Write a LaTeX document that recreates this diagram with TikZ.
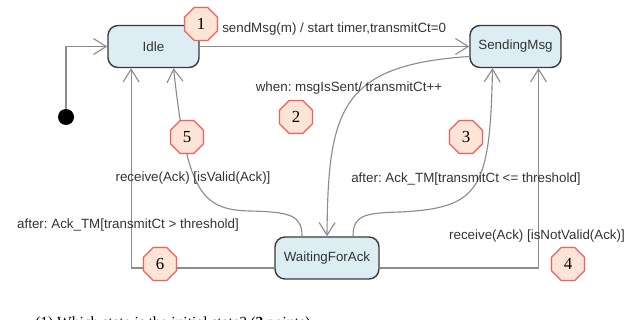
\documentclass[tikz,border=0pt]{standalone}
\usepackage{fontspec}
\setmainfont{Liberation Sans}
\newfontfamily\numfont{Liberation Serif}
\usetikzlibrary{arrows.meta,shapes.geometric,calc}
\frenchspacing

\definecolor{statefill}{HTML}{DCEEF4}
\definecolor{stateedge}{HTML}{3A3A3A}
\definecolor{wire}{HTML}{8C8C8C}
\definecolor{badgefill}{HTML}{FCE4D6}
\definecolor{badgeedge}{HTML}{FF5A5A}

\begin{document}
\begin{tikzpicture}[x=0.025cm, y=-0.025cm,
    state/.style = {draw=stateedge, line width=1pt, fill=statefill, rounded corners=0.25cm, minimum height=1.05cm, font=\fontsize{9.5}{11}\selectfont, text=black!80},
    trans/.style = {draw=wire, line width=0.8pt, -{Straight Barb[length=3.2mm,width=4mm]}},
    badge/.style = {regular polygon, regular polygon sides=8, draw=badgeedge, fill=badgefill, line width=0.8pt, minimum size=0.89cm, inner sep=0pt, font=\numfont\fontsize{12}{12}\selectfont},
    lbl/.style = {font=\fontsize{9.5}{11}\selectfont, text=black!80, inner sep=0pt}]
    % Page size
    \useasboundingbox (0,0) rectangle (643,320);

    % States
    \node[state, minimum width=2.275cm] (idle) at (153.5,46.5) {Idle};
    \node[state, minimum width=2.275cm] (sending) at (515.5,46.5) {SendingMsg};
    \node[state, minimum width=2.6cm] (waiting) at (327,258) {WaitingForAck};
    \node[circle, fill=black, minimum size=0.4cm, inner sep=0pt] (init) at (66,117) {};

    % Initial transition
    \draw[trans] (init) |- (idle);
    % Idle to SendingMsg
    \draw[trans] (idle) -- (sending);
    % SendingMsg to WaitingForAck
    \draw[trans] ([yshift=-0.25cm]sending.west) .. controls (340,65) and (328,110) .. (waiting.north);
    % WaitingForAck back to SendingMsg
    \draw[trans] ([xshift=0.65cm]waiting.north) .. controls (353,215) and (365,213) .. (400,212)
        .. controls (480,208) and (490,190) .. ([xshift=-0.575cm]sending.south);
    \draw[trans] ([yshift=-0.25cm]waiting.east) -| ([xshift=0.575cm]sending.south);
    % WaitingForAck back to Idle
    \draw[trans] ([xshift=-0.625cm]waiting.north) .. controls (302,215) and (290,212) .. (250,211)
        .. controls (200,210) and (187,190) .. ([xshift=0.5cm]idle.south);
    \draw[trans] ([yshift=-0.25cm]waiting.west) -| ([xshift=-0.56cm]idle.south);

    % Transition labels
    \node[lbl, anchor=west] (l1) at (222,29) {sendMsg(m) / start timer,transmitCt=0};
    \node[lbl] (l2) at (349,88) {when: msgIsSent/ transmitCt++};
    \node[lbl] (l5) at (193,178) {receive(Ack) [isValid(Ack)]};
    \node[lbl] (l3) at (466,179) {after: Ack\_TM[transmitCt <= threshold]};
    \node[lbl] (l6) at (128,225) {after: Ack\_TM[transmitCt > threshold]};
    \node[lbl] (l4) at (537,236) {receive(Ack) [isNotValid(Ack)]};

    % Numbered badges
    \node[badge] (b1) at (201,24) {1};
    \node[badge] (b2) at (296,117) {2};
    \node[badge] (b3) at (466,137) {3};
    \node[badge] (b4) at (568,264) {4};
    \node[badge] (b5) at (187,137) {5};
    \node[badge] (b6) at (160,264) {6};

    % Question text cut at the bottom
    \node[anchor=base west, inner sep=0pt, font=\numfont\fontsize{11}{13}\selectfont] (q1) at (35,327) {(1) Which state is the initial state? (\textbf{2} points)};
\end{tikzpicture}
\end{document}
